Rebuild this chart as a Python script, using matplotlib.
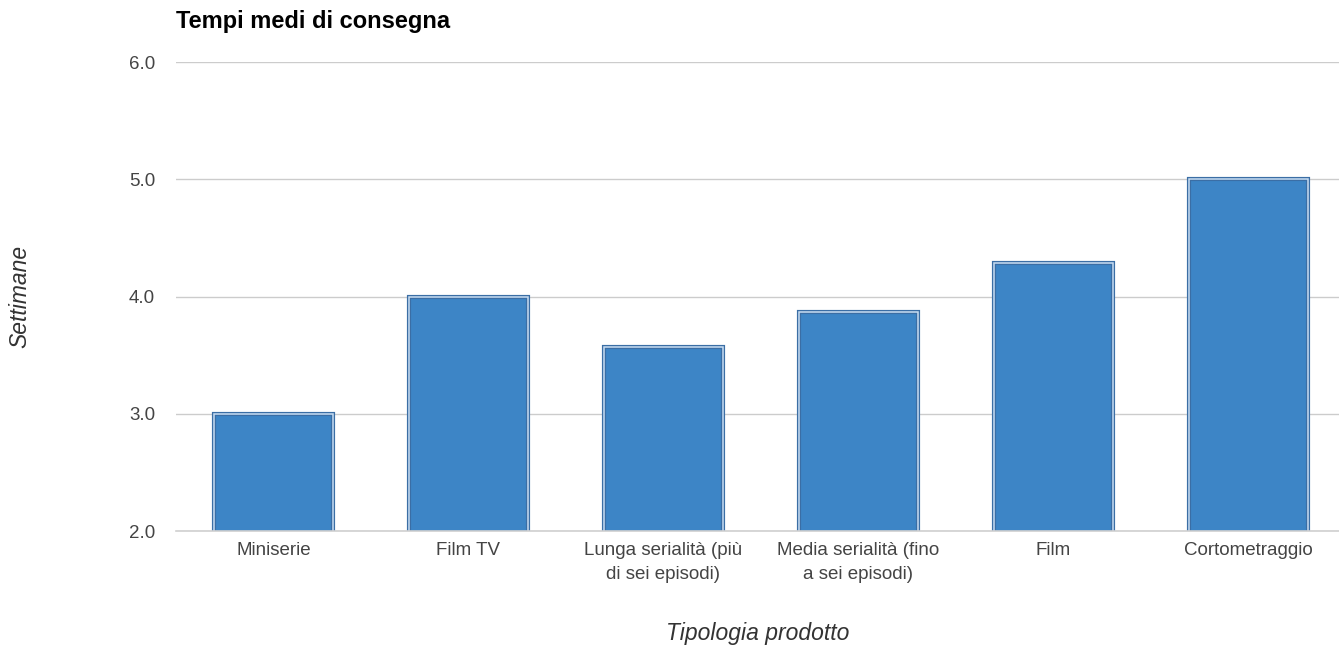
import numpy as np
import matplotlib.pyplot as plt

# tempi medi di consegna per tipologia di prodotto (settimane)
categorie = ["Miniserie", "Film TV", "Lunga serialità (più\ndi sei episodi)",
             "Media serialità (fino\na sei episodi)", "Film", "Cortometraggio"]
settimane = [3.0, 4.0, 3.57, 3.87, 4.29, 5.0]
yticks = [2.0, 3.0, 4.0, 5.0, 6.0]

plt.rcParams['font.family'] = ['Liberation Sans', 'DejaVu Sans']

fig = plt.figure(figsize=(13.39, 6.46), dpi=100)
ax = fig.add_axes([0.1314, 0.178, 0.8686, 0.726])

x = np.arange(len(categorie))
width = 0.61
# barra piena con bordo scuro, poi filetto chiaro interno
ax.bar(x, settimane, width, color='#3d85c6', edgecolor='#3b6ea5', linewidth=3, zorder=3)
ax.bar(x, settimane, width, color='none', edgecolor='#c9def2', linewidth=1.1, zorder=4)

ax.set_ylim(2, 6)
ax.set_xlim(-0.5, 5.464)
ax.set_yticks(yticks)
ax.set_yticklabels([f"{v:.1f}" for v in yticks])
ax.set_xticks(x)
ax.set_xticklabels(categorie, linespacing=1.5)

ax.grid(axis='y', color='#cccccc', linewidth=1, zorder=0)
ax.axhline(2.0, color='#d0d0d0', linewidth=1.2, zorder=5, clip_on=False)
for s in ax.spines.values():
    s.set_visible(False)
ax.tick_params(axis='both', length=0, labelsize=13.5, labelcolor='#444444')
ax.tick_params(axis='y', pad=15)
ax.tick_params(axis='x', pad=8)

ax.set_xlabel("Tipologia prodotto", fontsize=16.5, style='italic', color='#333333', labelpad=28)
ax.set_ylabel("Settimane", fontsize=16.5, style='italic', color='#333333', labelpad=70)
fig.text(0.1314, 0.966, "Tempi medi di consegna", fontsize=17, fontweight='bold',
         color='#000000', va='center', ha='left')

fig.savefig("out.png", dpi=100)
